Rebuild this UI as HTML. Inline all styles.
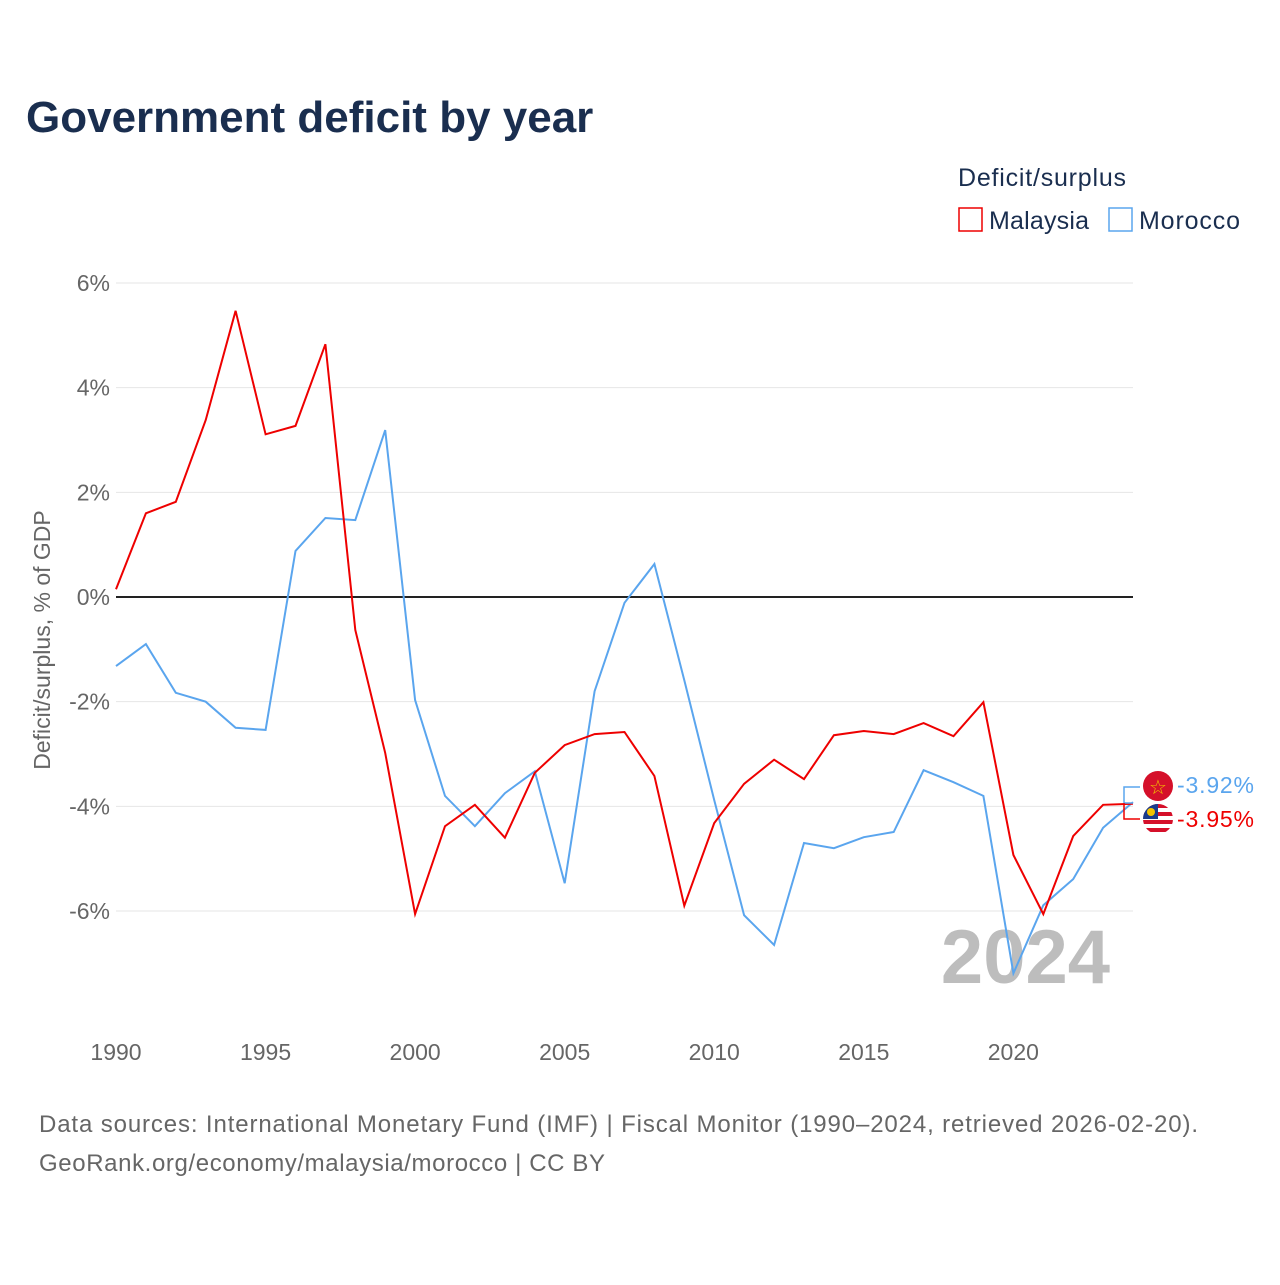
<!DOCTYPE html>
<html><head><meta charset="utf-8">
<style>
body{margin:0;background:#fff;font-family:"Liberation Sans",sans-serif;}
svg text{font-family:"Liberation Sans",sans-serif;}
</style></head>
<body>
<svg width="1280" height="1280" xmlns="http://www.w3.org/2000/svg">
<text x="26" y="132" font-size="44" font-weight="bold" fill="#1a2e4f">Government deficit by year</text>
<text x="958" y="186" font-size="25" fill="#1a2e4f" textLength="168">Deficit/surplus</text>
<g><rect x="959" y="208" width="23" height="23" fill="none" stroke="#ee0000" stroke-width="1.5"/><text x="989" y="229" font-size="25" fill="#1a2e4f" textLength="100">Malaysia</text></g>
<g><rect x="1109" y="208" width="23" height="23" fill="none" stroke="#5aa5ee" stroke-width="1.5"/><text x="1139" y="229" font-size="25" fill="#1a2e4f" textLength="101">Morocco</text></g>
<g id="grid"></g>
<text x="1110" y="983" font-size="76" font-weight="bold" fill="#bdbdbd" text-anchor="end">2024</text>
<g id="series"></g>
<text transform="translate(50,640) rotate(-90)" font-size="23" fill="#666" text-anchor="middle">Deficit/surplus, % of GDP</text>
<g>
<path d="M1133 803 L1124 803 L1124 787 L1140 787" fill="none" stroke="#5aa5ee" stroke-width="1.5"/>
<path d="M1124 803 L1124 819 L1140 819" fill="none" stroke="#ee0000" stroke-width="1.5"/>
<circle cx="1158" cy="786" r="15" fill="#d5102a"/>
<text x="1158" y="794" font-size="20" fill="#f3c300" text-anchor="middle">☆</text>
<g>
<clipPath id="cf"><circle cx="1158" cy="819" r="15"/></clipPath>
<g clip-path="url(#cf)"><rect x="1143" y="804" width="30" height="30" fill="#fff"/>
<rect x="1143" y="804" width="30" height="4" fill="#d5102a"/><rect x="1143" y="812" width="30" height="4" fill="#d5102a"/><rect x="1143" y="820" width="30" height="4" fill="#d5102a"/><rect x="1143" y="828" width="30" height="4" fill="#d5102a"/>
<rect x="1143" y="804" width="15" height="15" fill="#1a3c8c"/><circle cx="1151" cy="812" r="4" fill="#f3c300"/></g></g>
<text x="1177" y="793" font-size="23" fill="#5aa5ee" textLength="77">-3.92%</text>
<text x="1177" y="827" font-size="23" fill="#ee0000" textLength="77">-3.95%</text>
</g>
<text x="39" y="1132" font-size="24" fill="#666" textLength="1159">Data sources: International Monetary Fund (IMF) | Fiscal Monitor (1990–2024, retrieved 2026-02-20).</text>
<text x="39" y="1171" font-size="24" fill="#666" textLength="566">GeoRank.org/economy/malaysia/morocco | CC BY</text>
</svg>
<script>
const years=[];for(let y=1990;y<=2024;y++)years.push(y);
const malaysia=[0.15,1.6,1.82,3.38,5.47,3.11,3.27,4.83,-0.63,-2.98,-6.06,-4.38,-3.97,-4.6,-3.36,-2.83,-2.62,-2.58,-3.42,-5.9,-4.32,-3.57,-3.11,-3.48,-2.64,-2.56,-2.62,-2.41,-2.66,-2.01,-4.93,-6.06,-4.57,-3.97,-3.95];
const morocco=[-1.32,-0.9,-1.83,-2.0,-2.5,-2.54,0.88,1.51,1.47,3.19,-1.97,-3.8,-4.38,-3.75,-3.33,-5.47,-1.8,-0.11,0.63,-1.59,-3.88,-6.08,-6.65,-4.7,-4.8,-4.59,-4.49,-3.31,-3.54,-3.8,-7.19,-5.89,-5.39,-4.41,-3.92];
const yTicks=[6,4,2,0,-2,-4,-6];
const xTicks=[1990,1995,2000,2005,2010,2015,2020];
const NS="http://www.w3.org/2000/svg";
const xs=y=>116+(y-1990)*(1133-116)/34;
const ys=v=>597-v*52.33;
const grid=document.getElementById('grid');
yTicks.forEach(t=>{
 const l=document.createElementNS(NS,'line');
 
 
 l.setAttribute('x1',116);l.setAttribute('x2',1133);l.setAttribute('y1',ys(t));l.setAttribute('y2',ys(t));
 l.setAttribute('stroke',t===0?'#222':'#e6e6e6');l.setAttribute('stroke-width',t===0?2:1);
 grid.appendChild(l);
 const tx=document.createElementNS(NS,'text');
 
 
 tx.setAttribute('x',110);tx.setAttribute('y',ys(t)+8);tx.setAttribute('text-anchor','end');
 tx.setAttribute('font-size','23');tx.setAttribute('fill','#666');tx.textContent=t+'%';
 grid.appendChild(tx);
});
xTicks.forEach(t=>{
 const tx=document.createElementNS(NS,'text');
 
 
 tx.setAttribute('x',xs(t));tx.setAttribute('y',1060);tx.setAttribute('text-anchor','middle');
 tx.setAttribute('font-size','23');tx.setAttribute('fill','#666');tx.textContent=t;
 grid.appendChild(tx);
});
const ser=document.getElementById('series');
[[morocco,'#5aa5ee','line-morocco'],[malaysia,'#ee0000','line-malaysia']].forEach(([d,c,n])=>{
 const p=document.createElementNS(NS,'path');
 
 
 p.setAttribute('d',d.map((v,i)=>(i?'L':'M')+xs(years[i]).toFixed(1)+' '+ys(v).toFixed(1)).join(' '));
 p.setAttribute('fill','none');p.setAttribute('stroke',c);p.setAttribute('stroke-width','2');
 ser.appendChild(p);
});
</script>
</body></html>
